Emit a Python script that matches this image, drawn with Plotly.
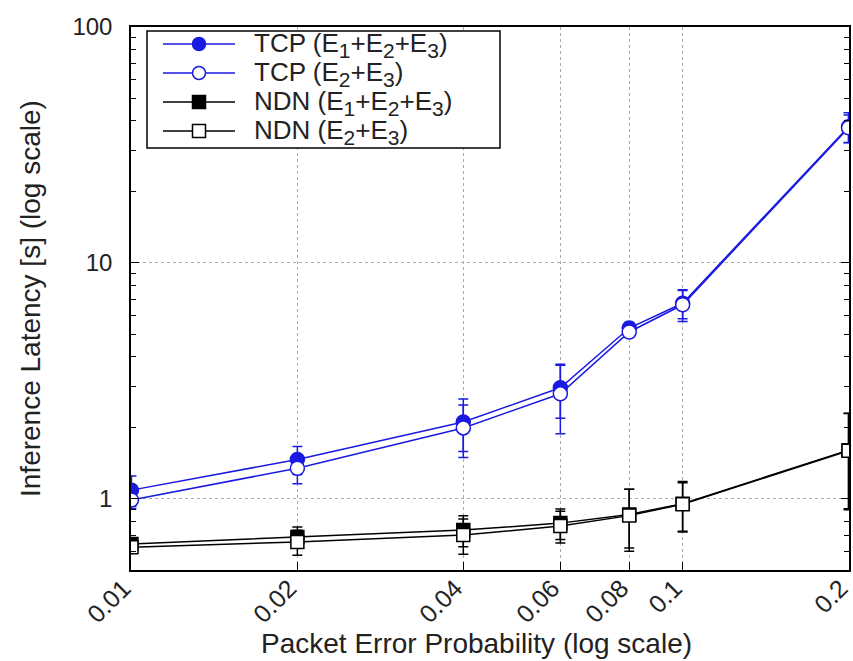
import plotly.graph_objects as go
import numpy as np

x_vals = [0.01, 0.02, 0.04, 0.06, 0.08, 0.1, 0.2]

tcp_full = [1.09, 1.47, 2.12, 2.96, 5.3, 6.75, 37.8]
tcp_full_err = [0.16, 0.2, 0.53, 0.76, 0.3, 0.95, 5.5]
tcp_part = [0.99, 1.35, 2.0, 2.79, 5.1, 6.65, 37.4]
tcp_part_err = [0.08, 0.19, 0.5, 0.9, 0.25, 1.0, 5.0]

ndn_full = [0.645, 0.69, 0.738, 0.79, 0.86, 0.955, 1.61]
ndn_full_err = [0.04, 0.07, 0.11, 0.117, 0.24, 0.23, 0.7]
ndn_part = [0.625, 0.657, 0.703, 0.768, 0.85, 0.95, 1.60]
ndn_part_err = [0.03, 0.08, 0.12, 0.118, 0.25, 0.22, 0.7]

x_ticks = [0.01, 0.02, 0.04, 0.06, 0.08, 0.1, 0.2]
x_tick_text = ["0.01", "0.02", "0.04", "0.06", "0.08", "0.1", "0.2"]
y_ticks = [1, 10, 100]
y_tick_text = ["1", "10", "100"]


def sub(d):
    return "<span style='font-size:21px;baseline-shift:-6px'>" + d + "</span>"


names = ["TCP (E" + sub("1") + "+E" + sub("2") + "+E" + sub("3") + ")",
         "TCP (E" + sub("2") + "+E" + sub("3") + ")",
         "NDN (E" + sub("1") + "+E" + sub("2") + "+E" + sub("3") + ")",
         "NDN (E" + sub("2") + "+E" + sub("3") + ")"]

BLUE = "#1a1ae0"
series = [
    (tcp_full, tcp_full_err, names[0], BLUE, "circle", BLUE),
    (tcp_part, tcp_part_err, names[1], BLUE, "circle", "white"),
    (ndn_full, ndn_full_err, names[2], "black", "square", "black"),
    (ndn_part, ndn_part_err, names[3], "black", "square", "white"),
]

# plot-area geometry (pixels)
W, H = 853, 661
L, R, T, B = 131, 849, 27, 570
PW, PH = R - L, B - T


def px(X):
    return (X - L) / PW


def py(Y):
    return (B - Y) / PH


fig = go.Figure()
for yv, ev, nm, col, sym, fill in series:
    fig.add_trace(go.Scatter(
        x=x_vals, y=yv, name=nm, mode="lines+markers", showlegend=False,
        line=dict(color=col, width=1.5),
        marker=dict(symbol=sym, size=14 if sym == "circle" else 13, color=fill,
                    line=dict(color=col, width=1.5)),
        error_y=dict(type="data", array=ev, visible=True, color=col,
                     thickness=1.5, width=5),
    ))

font = "Liberation Sans, Arial, sans-serif"
TXT = "#222222"

# legend box drawn in paper coordinates
shapes = [dict(type="rect", xref="paper", yref="paper", layer="above",
               x0=px(147), x1=px(500), y0=py(148), y1=py(31),
               line=dict(color="black", width=1.5), fillcolor="white")]
annotations = []
rows = [44, 73, 102, 131]
for (yv, ev, nm, col, sym, fill), ry in zip(series, rows):
    shapes.append(dict(type="line", xref="paper", yref="paper", layer="above",
                       x0=px(163), x1=px(235), y0=py(ry), y1=py(ry),
                       line=dict(color=col, width=1.5)))
    r = 6.5
    shapes.append(dict(type="circle" if sym == "circle" else "rect",
                       xref="paper", yref="paper", layer="above",
                       x0=px(199 - r), x1=px(199 + r), y0=py(ry + r), y1=py(ry - r),
                       line=dict(color=col, width=1.5), fillcolor=fill))
    annotations.append(dict(text=nm, xref="paper", yref="paper",
                            x=px(252), y=py(ry + 1), xanchor="left", yanchor="middle",
                            showarrow=False, font=dict(size=26, family=font, color=TXT)))

annotations.append(dict(text="Packet Error Probability (log scale)", xref="paper", yref="paper",
                        x=px(476), y=py(643), xanchor="center", yanchor="middle",
                        showarrow=False, font=dict(size=28, family=font, color=TXT)))
annotations.append(dict(text="Inference Latency [s] (log scale)", xref="paper", yref="paper",
                        x=px(30), y=py(299), xanchor="center", yanchor="middle", textangle=-90,
                        showarrow=False, font=dict(size=28, family=font, color=TXT)))

eps = 0.0008
fig.update_layout(
    width=W, height=H,
    margin=dict(l=L, r=W - R, t=T, b=H - B, autoexpand=False),
    plot_bgcolor="white", paper_bgcolor="white",
    font=dict(family=font, color=TXT, size=24),
    showlegend=False,
    shapes=shapes, annotations=annotations,
    xaxis=dict(type="log", range=[np.log10(0.01) - eps, np.log10(0.2) + eps],
               tickvals=x_ticks, ticktext=x_tick_text, tickangle=-45,
               ticks="inside", ticklen=8, tickwidth=1, tickcolor="black",
               showline=True, linecolor="black", linewidth=1.5, mirror=True,
               showgrid=True, gridcolor="#aaaaaa", griddash="dot", gridwidth=1,
               tickfont=dict(size=25), zeroline=False, automargin=False,
               ticklabelshift=-8, ticklabelstandoff=-8, ticklabeloverflow="allow"),
    yaxis=dict(type="log", range=[np.log10(0.5), 2],
               tickvals=y_ticks, ticktext=y_tick_text,
               ticks="inside", ticklen=8, tickwidth=1, tickcolor="black",
               showline=True, linecolor="black", linewidth=1.5, mirror="allticks",
               showgrid=True, gridcolor="#aaaaaa", griddash="dot", gridwidth=1,
               minor=dict(ticks="inside", ticklen=5, tickcolor="black",
                          tickvals=[0.5, 0.6, 0.7, 0.8, 0.9, 2, 3, 4, 5, 6, 7, 8, 9,
                                    20, 30, 40, 50, 60, 70, 80, 90],
                          showgrid=False),
               tickfont=dict(size=24), zeroline=False, automargin=False,
               ticklabelstandoff=12),
)

fig.write_html("out.html", config={"displayModeBar": False},
               post_script="document.body.style.margin='0';document.body.style.overflow='hidden';")
